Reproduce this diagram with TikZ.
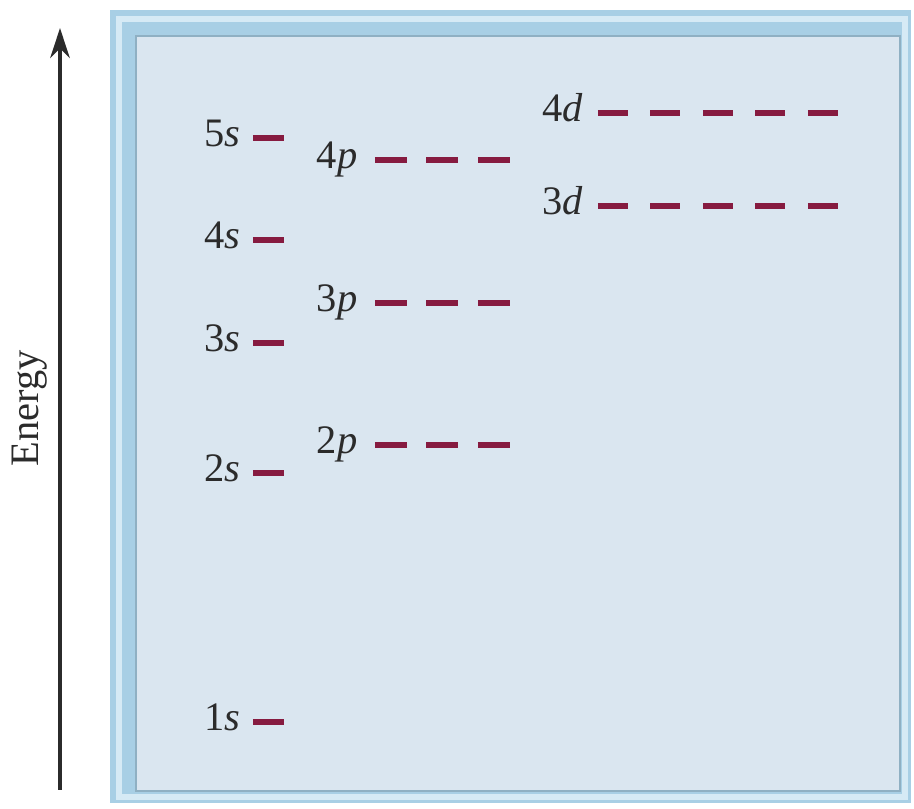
\documentclass[tikz,border=0pt]{standalone}
\usepackage{fontspec}
\setmainfont{Liberation Serif}
\usetikzlibrary{calc,arrows.meta}
\definecolor{orbred}{HTML}{861B40}
\definecolor{panel}{HTML}{DAE6F0}
\definecolor{rim}{HTML}{A8CFE5}
\definecolor{rimlight}{HTML}{D6EAF5}
\definecolor{ink}{HTML}{2B2B2B}
\tikzset{
  lvl/.style={inner sep=0pt, anchor=mid east, text=ink, font=\fontsize{11.5}{14}\selectfont},
  orb/.style={orbred, line width=1.45pt},
}
\begin{document}
\begin{tikzpicture}[x=0.01cm,y=-0.01cm]
        \useasboundingbox (0,0) rectangle (914,809);
        % frame
        \fill[rim](110,10)rectangle(911,803);
        \draw[rimlight, line width=1.6pt](119,19)rectangle(905,797);
        \fill[panel](136,36)rectangle(900,791);
        \draw[rim!85!black, line width=0.6pt](136,36)rectangle(900,791);
        % energy axis
        \coordinate (bot) at (60,790);
        \coordinate (top) at (60,28);
        \draw[ink, line width=1.4pt, -{Stealth[length=8.5pt,width=5.5pt]}](bot)to(top);
        \node[rotate=90, text=ink, font=\fontsize{11.5}{14}\selectfont] (energy) at (30,408) {Energy};
        % s levels
        \foreach \n/\y in {1/722,2/473,3/343,4/240,5/138}
        {
        \node[lvl] (s\n) at (241,\y) {\n\textit{s}};
        \draw[orb]($(s\n.mid east)+(12,0)$)--++(31,0);
        }
        % p levels
        \foreach \n/\y in {2/445,3/303,4/160}
        {
        \node[lvl] (p\n) at (358,\y) {\n\textit{p}};
        \foreach \k in {0,1,2}
        {
        \draw[orb]($(p\n.mid east)+(17+51.5*\k,0)$)--++(32,0);
        }
        }
        % d levels
        \foreach \n/\y in {3/206,4/113}
        {
        \node[lvl] (d\n) at (584,\y) {\n\textit{d}};
        \foreach \k in {0,...,4}
        {
        \draw[orb]($(d\n.mid east)+(14+52.5*\k,0)$)--++(30,0);
        }
        }
    \end{tikzpicture}
\end{document}
